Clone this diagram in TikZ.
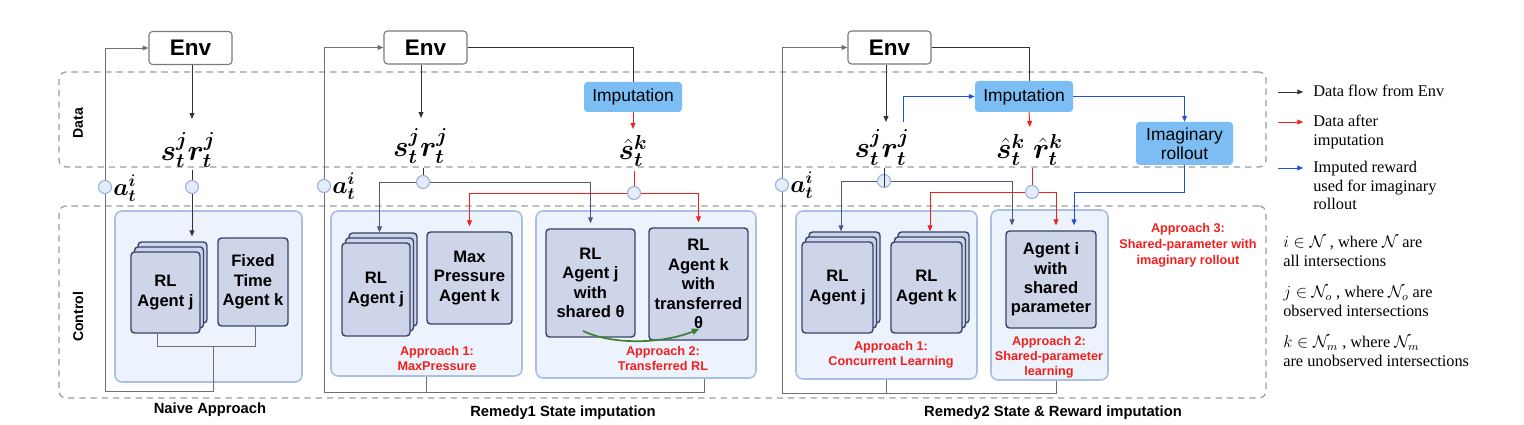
\documentclass[tikz,border=0pt]{standalone}
\usepackage{amsmath}
\usepackage{bm}
\usepackage{fontspec}
\setmainfont{Liberation Serif}
\setsansfont{Liberation Sans}
\usetikzlibrary{arrows.meta}
\pgfdeclarelayer{back}
\pgfdeclarelayer{mid}
\pgfsetlayers{back,mid,main}
\definecolor{dashgray}{HTML}{9C9C9C}
\definecolor{contfill}{HTML}{EDF3FC}
\definecolor{contdraw}{HTML}{A9BFE6}
\definecolor{agfill}{HTML}{CED5E8}
\definecolor{agdraw}{HTML}{36446C}
\definecolor{impfill}{HTML}{7CBEF3}
\definecolor{circfill}{HTML}{E4ECF9}
\definecolor{circdraw}{HTML}{9DB3DC}
\definecolor{slate}{HTML}{4B5A82}
\definecolor{fbgray}{HTML}{707070}
\definecolor{envline}{HTML}{333333}
\definecolor{impred}{HTML}{F0201E}
\definecolor{impblue}{HTML}{2152D6}
\definecolor{grn}{HTML}{3E7E2E}
\definecolor{envdraw}{HTML}{7A7A7A}
\tikzset{
  sz/.style 2 args={minimum width=#1*0.025cm, minimum height=#2*0.025cm},
  dbox/.style={draw=dashgray, line width=0.9pt, dash pattern=on 4.5pt off 3.5pt, rounded corners=5pt, inner sep=0},
  container/.style={draw=contdraw, fill=contfill, line width=1.1pt, rounded corners=5pt, inner sep=0},
  agent/.style={draw=agdraw, fill=agfill, line width=1pt, rounded corners=2.5pt, inner sep=0, align=center,
    font=\sffamily\bfseries\fontsize{11.8}{13.8}\selectfont},
  envbox/.style={draw=envdraw, fill=white, line width=0.8pt, rounded corners=2.5pt, inner sep=0, sz={83}{33},
    font=\sffamily\bfseries\fontsize{16}{18}\selectfont},
  impbox/.style={fill=impfill, rounded corners=2.5pt, inner sep=0, align=center,
    font=\sffamily\fontsize{12.4}{13.7}\selectfont},
  circ/.style={circle, draw=circdraw, fill=circfill, line width=0.8pt, minimum size=13*0.025cm, inner sep=0},
  mth/.style={inner sep=0, font=\fontsize{22.5}{26}\selectfont},
  amth/.style={inner sep=0, anchor=west, font=\fontsize{17.5}{20}\selectfont},
  sidelbl/.style={font=\sffamily\bfseries\fontsize{10}{12}\selectfont, inner sep=0},
  capt/.style={font=\sffamily\bfseries\fontsize{10.5}{12}\selectfont, inner sep=0},
  redlbl/.style={text=impred, align=center, inner sep=0, font=\sffamily\bfseries\fontsize{9}{10.7}\selectfont},
  legtxt/.style={anchor=north west, align=left, inner sep=0, font=\fontsize{11.6}{13.2}\selectfont},
  arr/.style={-{Triangle[length=4.2pt,width=3.4pt]}},
  ea/.style={draw=envline, line width=0.7pt},
  fb/.style={draw=fbgray, line width=0.7pt},
  sl/.style={draw=slate, line width=0.7pt},
  rd/.style={draw=impred, line width=0.7pt},
  bl/.style={draw=impblue, line width=0.7pt},
  shtip/.style={shorten >=3.5pt},
}
\newcommand\agstack[6]{%
  \node[agent, sz={#4}{#5}] (#1c) at (#2+7,#3-10) {};
  \node[agent, sz={#4}{#5}] (#1b) at (#2+3.5,#3-5) {};
  \node[agent, sz={#4}{#5}] (#1) at (#2,#3) {#6};}
\begin{document}
\begin{tikzpicture}[x=0.025cm,y=-0.025cm]
\useasboundingbox (0,0) rectangle (1524,425);
\begin{pgfonlayer}{back}
  \fill[white] (0,0) rectangle (1524,425);
  \node[dbox, sz={1207}{95}] (databox) at (662.5,119.5) {};
  \node[dbox, sz={1207}{192}] (ctrlbox) at (662.5,302) {};
  \node[container, sz={187}{171}] (cont0) at (208.5,296.5) {};
  \node[container, sz={191}{165}] (cont1) at (426.5,293.5) {};
  \node[container, sz={220}{167}] (cont2) at (646,294.5) {};
  \node[container, sz={181}{168}] (cont3) at (886.5,295) {};
  \node[container, sz={117}{170}] (cont4) at (1049.5,295) {};
\end{pgfonlayer}

% side labels and captions
\node[sidelbl, rotate=90] (datalbl) at (78,123) {Data};
\node[sidelbl, rotate=90] (ctrllbl) at (78,317) {Control};
\node[capt] (cap1) at (210,410) {Naive Approach};
\node[capt] (cap2) at (563,413) {Remedy1 State imputation};
\node[capt] (cap3) at (1053,413) {Remedy2 State \& Reward imputation};

% Env boxes
\node[envbox] (env1) at (190.5,48) {Env};
\node[envbox] (env2) at (425.5,47.5) {Env};
\node[envbox] (env3) at (889.5,47.5) {Env};

% imputation boxes
\node[impbox, sz={98}{30}] (imp2) at (633,97) {Imputation};
\node[impbox, sz={98}{31}] (imp3) at (1024,96.5) {Imputation};
\node[impbox, sz={97}{43}] (imr) at (1184.5,143.5) {Imaginary\\rollout};

% math labels
\node[mth] (sr1) at (188,150) {$\bm{s^j_t r^j_t}$};
\node[mth] (sr2) at (420.5,146) {$\bm{s^j_t r^j_t}$};
\node[mth] (sh2) at (633,151) {$\hat{\bm{s}}^{\bm{k}}_{\bm{t}}$};
\node[mth] (sr3) at (882,147.5) {$\bm{s^j_t r^j_t}$};
\node[mth] (sh3) at (1029.5,150) {$\hat{\bm{s}}^{\bm{k}}_{\bm{t}}\;\hat{\bm{r}}^{\bm{k}}_{\bm{t}}$};

% circles
\node[circ] (c1) at (192,187) {};
\node[circ] (a1) at (105,187) {};
\node[circ] (c2) at (423,182) {};
\node[circ] (a2) at (324,186) {};
\node[circ] (c3) at (634,193) {};
\node[circ] (c4) at (884,181) {};
\node[circ] (c5) at (1032,192) {};
\node[circ] (a3) at (782,185) {};
\node[amth] (al1) at (113,188) {$\bm{a^i_t}$};
\node[amth] (al2) at (332,186) {$\bm{a^i_t}$};
\node[amth] (al3) at (790,185) {$\bm{a^i_t}$};

% agents
\agstack{rlj1}{165.5}{292.5}{69}{81}{RL\\Agent j}
\node[agent, sz={70}{88}] (fixk) at (253,282) {Fixed\\Time\\Agent k};
\agstack{rlj2}{376}{289.5}{68}{93}{RL\\Agent j}
\node[agent, sz={85}{92}] (maxp) at (469.5,278) {Max\\Pressure\\Agent k};
\node[agent, sz={89}{108}] (shj) at (590.5,283) {RL\\Agent j\\with\\shared θ};
\node[agent, sz={99}{112}] (trk) at (698.5,284) {RL\\Agent k\\with\\transferred\\θ};
\agstack{rlj3}{837.5}{287.5}{71}{91}{RL\\Agent j}
\agstack{rlk3}{926.5}{287.5}{71}{91}{RL\\Agent k}
\node[agent, sz={90}{97}] (agi) at (1051,279.5) {Agent i\\with\\shared\\parameter};

% red approach labels
\node[redlbl] (ap1) at (437,358) {Approach 1:\\MaxPressure};
\node[redlbl] (ap2) at (663,358) {Approach 2:\\Transferred RL};
\node[redlbl] (ap3) at (891,354.5) {Approach 1:\\Concurrent Learning};
\node[redlbl] (ap4) at (1049,357) {Approach 2:\\Shared-parameter\\learning};
\node[redlbl, font=\sffamily\bfseries\fontsize{9}{11.4}\selectfont] (ap5) at (1188,245) {Approach 3:\\Shared-parameter with\\imaginary rollout};

% legend
\node[legtxt] (lt1) at (1313,85) {Data flow from Env};
\node[legtxt] (lt2) at (1313,115) {Data after\\imputation};
\node[legtxt] (lt3) at (1313,161) {Imputed reward\\used for imaginary\\rollout};
\node[legtxt] (lt4) at (1283,236) {$i \in \mathcal{N}$ , where $\mathcal{N}$ are\\all intersections};
\node[legtxt] (lt5) at (1283,286) {$j \in \mathcal{N}_o$ , where $\mathcal{N}_o$ are\\observed intersections};
\node[legtxt] (lt6) at (1283,336) {$k \in \mathcal{N}_m$ , where $\mathcal{N}_m$\\are unobserved intersections};

% helper coordinates
\coordinate (sr1t) at (192,119);
\coordinate (sr1b) at (192,170);
\coordinate (nbL) at (157,346);
\coordinate (nbR) at (255,346);
\coordinate (nbM) at (213,346);
\coordinate (fbb1) at (213,391);
\coordinate (fbc1) at (105,391);
\coordinate (sr2t) at (421,118);
\coordinate (sr2b) at (423,168);
\coordinate (sh2t) at (633,129);
\coordinate (sh2b) at (634,171);
\coordinate (rb2) at (704,392);
\coordinate (fbc2) at (324,392);
\coordinate (sr3t) at (886,122);
\coordinate (sr3u) at (903,122);
\coordinate (sr3b) at (884,168);
\coordinate (c4e) at (884,187);
\coordinate (i3x) at (1029,0);
\coordinate (sh3t) at (1030,127);
\coordinate (sh3b) at (1032,168);
\coordinate (ag3l) at (1012,0);
\coordinate (ag3m) at (1056,0);
\coordinate (bj) at (1074,192);
\coordinate (rb3) at (1056,393);
\coordinate (fbc3) at (782,393);
\coordinate (g1) at (583,331);
\coordinate (g2) at (699,329);
\coordinate (lg1) at (1278,92);
\coordinate (lg2) at (1278,122);
\coordinate (lg3) at (1278,168);

\begin{pgfonlayer}{mid}
% Naive
\draw[ea,arr] (env1.south -| sr1t) -- (sr1t);
\draw[ea] (sr1b) -- (c1);
\draw[ea,arr,shtip] (c1) -- (c1 |- rlj1c.north);
\draw[fb] (rlj1.south -| nbL) -- (nbL) -- (nbR) -- (fixk.south -| nbR);
\draw[fb,arr] (nbM) -- (fbb1) -- (fbc1) -- (a1) |- (env1.west);
% Remedy 1
\draw[ea,arr] (env2.south -| sr2t) -- (sr2t);
\draw[ea] (sr2b) -- (c2);
\draw[sl,arr,shtip] (c2) -| (rlj2b.north);
\draw[sl,arr,shtip] (c2) -| (shj.north);
\draw[ea] (env2.east) -| (imp2.north);
\draw[rd,arr] (imp2.south) -- (sh2t);
\draw[rd] (sh2b) -- (c3);
\draw[rd,arr,shtip] (c3) -| (maxp.north);
\draw[rd,arr,shtip] (c3) -| (trk.north);
\draw[fb] (cont1.south) -- (cont1.south |- rb2);
\draw[fb,arr] (cont2.south -| rb2) -- (rb2) -- (fbc2) -- (a2) |- (env2.west);
% Remedy 2
\draw[ea,arr] (env3.south -| sr3t) -- (sr3t);
\draw[bl,arr] (sr3u) |- (imp3.west);
\draw[ea] (env3.east) -| (imp3.north -| i3x);
\draw[rd,arr] (imp3.south -| i3x) -- (sh3t);
\draw[rd] (sh3b) -- (c5);
\draw[rd,arr,shtip] (c5) -| (rlk3b.north);
\draw[rd,arr,shtip] (c5) -| (agi.north -| ag3m);
\draw[sl,arr,shtip] (c4) -| (rlj3b.north);
\draw[sl,arr,shtip] (c4) -| (agi.north -| ag3l);
\draw[bl,arr] (imp3.east) -| (imr.north);
\draw[bl,arr,shtip] (imr.south) |- (bj) -- (agi.north -| bj);
\draw[fb] (cont3.south) -- (cont3.south |- rb3);
\draw[fb,arr] (cont4.south -| rb3) -- (rb3) -- (fbc3) -- (a3) |- (env3.west);
\end{pgfonlayer}

% line through circle c4 and green transfer arrow
\draw[ea] (sr3b) -- (c4e);
\draw[draw=grn, line width=1.2pt, -{Triangle[length=5pt,width=4.5pt]}] (g1) .. controls (615,346) and (665,343) .. (g2);

% legend arrows
\draw[ea,arr,shorten >=7pt] (lg1) -- (lt1.west |- lg1);
\draw[rd,arr,shorten >=7pt] (lg2) -- (lt2.west |- lg2);
\draw[bl,arr,shorten >=7pt] (lg3) -- (lt3.west |- lg3);
\end{tikzpicture}
\end{document}
